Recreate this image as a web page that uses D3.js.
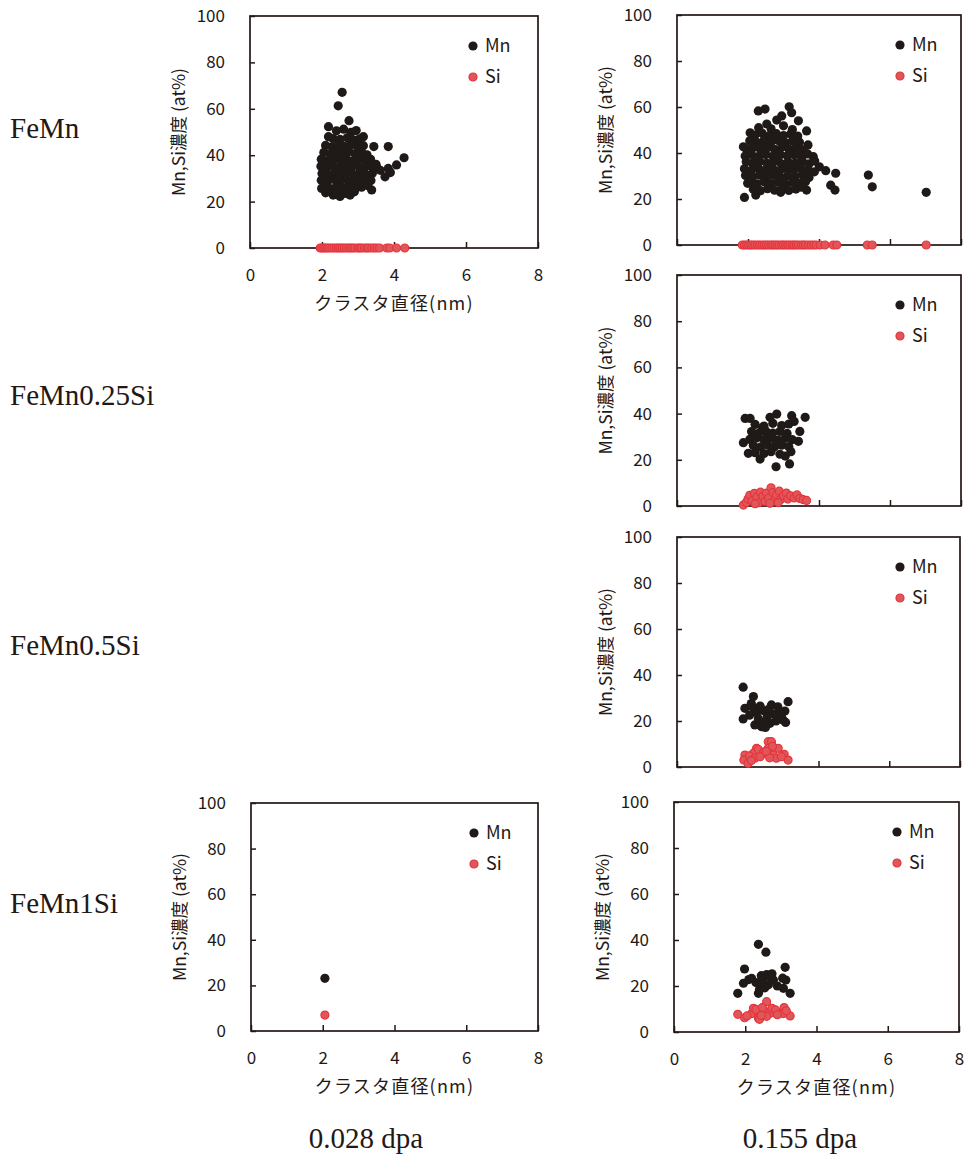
<!DOCTYPE html>
<html>
<head>
<meta charset="utf-8">
<script src="https://cdn.jsdelivr.net/npm/d3@7"></script>
<style>
  body { margin: 0; background: #fff; }
  svg { display: block; }
  .tick text { font-family: "Noto Sans CJK JP", "Noto Sans", sans-serif; font-size: 17px; fill: #231815; }
</style>
</head>
<body>
<script>
// cluster diameter (nm) vs Mn / Si concentration (at%)
const xTicks = [0, 2, 4, 6, 8];
const yTicks = [0, 20, 40, 60, 80, 100];
const rowLabels = ["FeMn", "FeMn0.25Si", "FeMn0.5Si", "FeMn1Si"];
const colLabels = ["0.028 dpa", "0.155 dpa"];
const seriesNames = ["Mn", "Si"];

// FeMn, 0.028 dpa
const mnFeMn028 = [
  [2.56,67.1],[2.45,61.3],[2.75,54.9],[2.18,52.3],[2.18,48.0],[3.15,48.0],[3.44,43.7],[3.84,43.7],
  [4.28,38.9],[4.07,35.8],[3.84,34.3],[3.75,30.7],[3.52,34.8],[3.38,25.0],[1.99,25.7],[2.31,22.8],
  [2.78,22.8],[2.5,22.2],[3.62,33.5],[3.9,32.5],
  [2.4,50.5],[2.6,51.2],[2.8,49.8],[2.95,50.6],
  [2.3,47.2],[2.5,46.8],[2.7,47.5],[2.9,46.5],[3.05,47.1],
  [2.1,44.2],[2.28,43.6],[2.45,44.5],[2.62,43.8],[2.8,44.6],[2.98,43.5],[3.15,44.1],
  [2.05,41.2],[2.22,40.6],[2.4,41.5],[2.58,40.8],[2.75,41.6],[2.92,40.5],[3.1,41.3],[3.25,40.2],
  [1.98,38.3],[2.15,37.6],[2.32,38.6],[2.5,37.8],[2.68,38.5],[2.85,37.5],[3.02,38.4],[3.2,37.7],[3.35,38.2],
  [1.97,35.2],[2.13,34.5],[2.3,35.6],[2.48,34.8],[2.65,35.4],[2.82,34.6],[3.0,35.5],[3.18,34.7],[3.36,35.3],[3.5,36.1],
  [2.0,32.1],[2.17,31.5],[2.35,32.6],[2.52,31.8],[2.7,32.4],[2.88,31.6],[3.05,32.5],[3.22,31.7],[3.4,32.2],
  [1.98,29.2],[2.15,28.5],[2.33,29.6],[2.5,28.8],[2.68,29.4],[2.85,28.6],[3.03,29.5],[3.2,28.7],[3.36,29.1],
  [2.05,26.3],[2.22,25.6],[2.4,26.5],[2.58,25.8],[2.75,26.4],[2.93,25.7],[3.1,26.2],[3.28,26.8],
  [2.1,23.8],[2.65,23.5],[2.9,24.2],[2.4,24.0],
  [2.55,42.7],[2.75,36.8],[2.45,30.4],[2.9,27.6],[2.6,33.1],[2.35,39.8],[3.1,39.4],[2.2,36.9]
];
const siFeMn028 = [
  [1.95,0],[2.0,0],[2.05,0],[2.1,0],[2.15,0],[2.2,0],[2.27,0],[2.33,0],[2.4,0],[2.45,0],[2.5,0],
  [2.56,0],[2.62,0],[2.68,0],[2.75,0],[2.8,0],[2.86,0],[2.92,0],[3.0,0],[3.05,0],[3.1,0],[3.18,0],
  [3.25,0],[3.3,0],[3.38,0],[3.45,0],[3.52,0],[3.6,0],[3.8,0],[3.88,0],[4.07,0],[4.3,0]
];

// FeMn, 0.155 dpa
const mnFeMn155 = [
  [7.02,22.9],[5.39,30.4],[5.5,25.3],[4.47,31.2],[4.45,23.9],[4.33,26.0],[4.19,32.3],[1.9,20.7],
  [1.87,42.7],[2.06,48.8],[2.29,58.3],[2.48,59.1],[3.16,60.1],[3.23,57.5],[2.95,56.1],[2.81,54.3],
  [2.53,52.6],[3.42,54.0],[3.65,49.6],[3.69,43.5],[3.84,38.4],[4.01,34.0],[3.65,23.9],[2.92,22.9],
  [2.22,21.7],[1.99,26.8],
  [2.3,51.0],[2.65,50.5],[3.0,51.8],[3.25,50.2],
  [2.2,47.8],[2.4,48.6],[2.6,47.5],[2.8,48.4],[3.0,47.6],[3.2,48.3],[3.4,47.4],
  [2.05,45.3],[2.25,44.6],[2.45,45.5],[2.65,44.8],[2.85,45.4],[3.05,44.5],[3.25,45.2],[3.45,44.7],
  [1.95,41.8],[2.15,42.4],[2.35,41.5],[2.55,42.3],[2.75,41.6],[2.95,42.5],[3.15,41.7],[3.35,42.2],[3.55,41.4],
  [1.92,38.7],[2.1,39.4],[2.3,38.5],[2.5,39.3],[2.7,38.6],[2.9,39.5],[3.1,38.8],[3.3,39.2],[3.5,38.5],[3.68,39.6],
  [1.95,36.2],[2.13,35.5],[2.33,36.4],[2.53,35.6],[2.73,36.3],[2.93,35.4],[3.13,36.2],[3.33,35.7],[3.53,36.5],[3.72,35.3],[3.88,36.5],
  [1.9,33.1],[2.1,32.5],[2.3,33.4],[2.5,32.6],[2.7,33.3],[2.9,32.4],[3.1,33.2],[3.3,32.7],[3.5,33.5],[3.7,32.6],[3.87,31.8],
  [1.93,30.2],[2.12,29.5],[2.32,30.4],[2.52,29.6],[2.72,30.3],[2.92,29.4],[3.12,30.2],[3.32,29.7],[3.52,30.5],[3.72,29.3],
  [2.05,27.3],[2.25,26.6],[2.45,27.5],[2.65,26.7],[2.85,27.4],[3.05,26.5],[3.25,27.2],[3.45,26.8],[3.62,27.5],
  [2.15,24.2],[2.35,23.6],[2.55,24.5],[2.75,23.8],[2.95,24.6],[3.15,23.7],[3.35,24.3],[3.5,25.1],
  [2.4,43.2],[2.85,37.8],[3.2,34.6],[2.6,31.2],[3.0,28.4],[2.2,37.4],[3.4,40.5],[2.7,46.2]
];
const siFeMn155 = [
  [1.84,0],[1.9,0],[1.96,0],[2.02,0],[2.08,0],[2.14,0],[2.2,0],[2.27,0],[2.33,0],[2.4,0],[2.46,0],
  [2.52,0],[2.58,0],[2.65,0],[2.7,0],[2.76,0],[2.82,0],[2.88,0],[2.95,0],[3.0,0],[3.06,0],[3.12,0],
  [3.18,0],[3.25,0],[3.3,0],[3.36,0],[3.42,0],[3.5,0],[3.56,0],[3.62,0],[3.7,0],[3.78,0],[3.85,0],
  [3.92,0],[4.03,0],[4.17,0],[4.4,0],[4.5,0],[5.36,0],[5.5,0],[7.02,0]
];

// FeMn0.25Si, 0.155 dpa
const mnFeMn025Si155 = [
  [1.92,37.9],[2.06,37.9],[1.87,27.4],[2.01,22.8],[2.34,20.3],[2.81,39.8],[3.23,39.1],[3.61,38.4],
  [3.46,32.3],[3.42,28.0],[2.79,17.0],[3.17,18.2],[3.21,23.5],[2.62,38.4],
  [2.2,35.3],[2.45,34.6],[2.7,35.8],[2.95,34.8],[3.15,35.5],[3.3,36.6],
  [2.1,32.2],[2.3,31.5],[2.5,32.5],[2.7,31.6],[2.9,32.3],[3.1,31.4],
  [2.05,28.8],[2.25,29.5],[2.45,28.6],[2.65,29.4],[2.85,28.5],[3.05,29.3],[3.25,28.7],
  [2.15,26.2],[2.35,25.5],[2.55,26.4],[2.75,25.6],[2.95,26.3],[3.15,25.7],
  [2.2,23.1],[2.45,22.7],[2.65,23.5],[2.9,22.4],[3.05,21.6],
  [2.55,30.7],[2.8,27.4],[2.4,33.8]
];
const siFeMn025Si155 = [
  [1.87,0.4],[1.95,1.5],[2.0,3.0],[2.05,4.6],[2.12,2.2],[2.18,5.5],[2.25,3.8],[2.3,1.4],[2.35,6.0],
  [2.42,4.2],[2.48,2.0],[2.52,5.6],[2.58,3.5],[2.65,7.9],[2.7,5.8],[2.75,2.6],[2.8,4.8],[2.88,6.4],
  [2.92,2.8],[3.0,4.5],[3.08,5.6],[3.12,3.0],[3.2,4.4],[3.3,3.5],[3.38,4.8],[3.46,3.3],[3.55,2.8],
  [3.65,2.4],[2.62,1.2],[2.2,1.0],[2.85,1.5]
];

// FeMn0.5Si, 0.155 dpa
const mnFeMn05Si155 = [
  [1.87,34.7],[2.16,30.6],[1.87,20.9],[1.92,25.5],[2.16,25.5],[2.25,23.6],[2.2,18.3],[2.39,17.5],
  [2.67,27.0],[2.72,23.0],[2.63,19.0],[3.0,20.4],[3.14,28.4],[3.05,24.3],[3.07,19.4],[2.9,24.0],
  [2.05,22.5],[2.3,21.0],[2.45,24.5],[2.55,21.8],[2.8,20.0],[2.85,26.2],[2.48,19.5],[2.35,26.5],
  [2.6,25.2],[2.95,22.2],[2.1,27.6],[2.5,17.2]
];
const siFeMn05Si155 = [
  [1.92,5.2],[1.89,3.0],[2.01,1.6],[2.25,8.1],[2.16,6.0],[2.39,5.4],[2.58,11.0],[2.67,11.0],
  [2.58,8.1],[2.72,5.2],[2.86,8.1],[2.81,3.8],[3.03,5.5],[3.14,3.0],[2.05,4.8],[2.3,7.6],
  [2.2,3.8],[2.45,6.5],[2.62,4.0],[2.7,9.0],[2.52,6.8],[2.95,4.5],[2.1,2.8],[2.35,4.5]
];

// FeMn1Si, 0.028 dpa
const mnFeMn1Si028 = [[2.06,23.1]];
const siFeMn1Si028 = [[2.06,7.0]];

// FeMn1Si, 0.155 dpa
const mnFeMn1Si155 = [
  [1.79,16.8],[1.98,27.4],[1.95,21.2],[2.18,23.3],[2.37,38.1],[2.58,34.7],[2.37,16.8],[2.4,18.5],
  [2.5,22.0],[2.6,25.0],[2.79,22.6],[2.75,25.3],[3.12,28.1],[3.14,22.6],[3.07,19.0],[3.26,16.8],
  [2.3,21.5],[2.45,24.5],[2.65,20.5],[2.9,20.0],[3.05,23.4],[2.1,22.8],[2.7,24.0],[2.55,19.2]
];
const siFeMn1Si155 = [
  [1.79,7.7],[1.98,6.2],[2.18,8.0],[2.23,10.3],[2.37,8.0],[2.37,6.0],[2.6,13.2],[2.55,9.0],
  [2.7,8.2],[2.75,10.3],[2.6,6.8],[3.09,10.6],[3.07,8.0],[3.26,7.0],[2.05,7.0],[2.4,5.5],
  [2.3,9.8],[2.48,10.6],[2.85,9.6],[3.15,9.2],[2.9,7.5],[2.45,7.2]
];

const ink = "#231815";
const mnColor = "#1f1a17";
const siFill = "#e0575b", siStroke = "#e5343b";
const r = 4.6;
const fontJP = '"Noto Sans CJK JP", "Noto Sans", sans-serif';
const fontSerif = '"Liberation Serif", "DejaVu Serif", serif';

const panels = [
  { left: 250, top: 16,  w: 288, h: 232, mn: mnFeMn028,      si: siFeMn028,      xLabels: true },
  { left: 677, top: 15,  w: 284, h: 230, mn: mnFeMn155,      si: siFeMn155,      xLabels: false },
  { left: 677, top: 275, w: 284, h: 231, mn: mnFeMn025Si155, si: siFeMn025Si155, xLabels: false },
  { left: 677, top: 537, w: 283, h: 230, mn: mnFeMn05Si155,  si: siFeMn05Si155,  xLabels: false },
  { left: 251, top: 803, w: 287, h: 228, mn: mnFeMn1Si028,   si: siFeMn1Si028,   xLabels: true },
  { left: 674, top: 802, w: 285, h: 230, mn: mnFeMn1Si155,   si: siFeMn1Si155,   xLabels: true }
];

const svg = d3.select("body").append("svg")
  .attr("width", 965)
  .attr("height", 1160);

svg.append("rect").attr("width", 965).attr("height", 1160).attr("fill", "#fff");

panels.forEach(p => {
  const g = svg.append("g").attr("transform", `translate(${p.left},${p.top})`);

  const x = d3.scaleLinear().domain([0, 8]).range([0, p.w]);
  const y = d3.scaleLinear().domain([0, 100]).range([p.h, 0]);

  const xAxis = g.append("g")
    .attr("transform", `translate(0,${p.h})`)
    .call(d3.axisBottom(x).tickValues(xTicks).tickSizeInner(-6).tickSizeOuter(0).tickPadding(21));
  if (!p.xLabels) xAxis.selectAll("text").remove();

  g.append("g")
    .call(d3.axisLeft(y).tickValues(yTicks).tickSizeInner(-5).tickSizeOuter(0).tickPadding(25));

  g.selectAll(".domain").remove();
  g.selectAll(".tick line").attr("stroke", ink).attr("stroke-width", 1.5);

  g.append("rect")
    .attr("width", p.w).attr("height", p.h)
    .attr("fill", "none").attr("stroke", ink).attr("stroke-width", 1.7);

  // axis titles
  g.append("text")
    .attr("transform", `translate(-71,${p.h / 2}) rotate(-90)`)
    .attr("text-anchor", "middle").attr("dy", "0.35em")
    .attr("font-family", fontJP).attr("font-size", 17.5).attr("fill", ink)
    .text("Mn,Si濃度 (at%)");

  if (p.xLabels) {
    g.append("text")
      .attr("x", p.w / 2).attr("y", p.h + 62)
      .attr("text-anchor", "middle")
      .attr("font-family", fontJP).attr("font-size", 18).attr("letter-spacing", 1.2).attr("fill", ink)
      .text("クラスタ直径(nm)");
  }

  // points
  g.append("g").selectAll("circle")
    .data(p.mn).join("circle")
    .attr("cx", d => x(d[0])).attr("cy", d => y(d[1])).attr("r", r)
    .attr("fill", mnColor);

  g.append("g").selectAll("circle")
    .data(p.si).join("circle")
    .attr("cx", d => x(d[0])).attr("cy", d => y(d[1])).attr("r", r - 0.6)
    .attr("fill", siFill).attr("stroke", siStroke).attr("stroke-width", 1.2);

  // legend
  const leg = g.append("g").attr("transform", "translate(223,30)");
  seriesNames.forEach((name, i) => {
    const row = leg.append("g").attr("transform", `translate(0,${i * 31})`);
    if (name === "Mn") {
      row.append("circle").attr("r", r).attr("fill", mnColor);
    } else {
      row.append("circle").attr("r", r - 0.6).attr("fill", siFill).attr("stroke", siStroke).attr("stroke-width", 1.2);
    }
    row.append("text").attr("x", 12).attr("dy", "0.36em")
      .attr("font-family", fontJP).attr("font-size", 18).attr("fill", ink)
      .text(name);
  });
});

// row and column labels
const rowBaselines = [138, 405, 655, 913];
svg.append("g").selectAll("text")
  .data(rowLabels).join("text")
  .attr("x", 10).attr("y", (d, i) => rowBaselines[i])
  .attr("font-family", fontSerif).attr("font-size", 29).attr("fill", ink)
  .text(d => d);

const colCenters = [366, 800];
svg.append("g").selectAll("text")
  .data(colLabels).join("text")
  .attr("x", (d, i) => colCenters[i]).attr("y", 1148)
  .attr("text-anchor", "middle")
  .attr("font-family", fontSerif).attr("font-size", 29).attr("fill", ink)
  .text(d => d);
</script>
</body>
</html>
